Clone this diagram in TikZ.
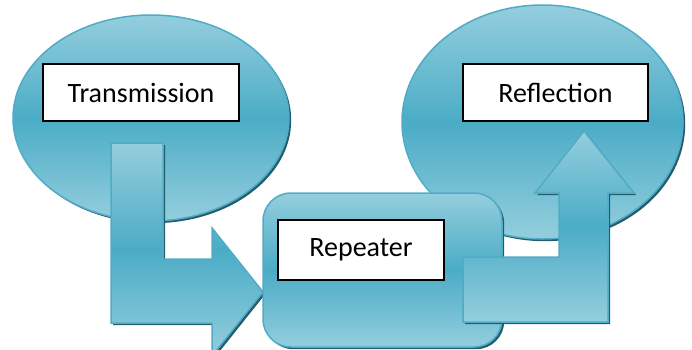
\documentclass[tikz,border=0pt]{standalone}
\usepackage{fontspec}
\setmainfont{Carlito}
\usetikzlibrary{shapes.geometric,shadows}
\definecolor{aqlight}{RGB}{148,206,221}
\definecolor{aqdark}{RGB}{75,172,198}
\definecolor{aqline}{RGB}{80,172,198}
\definecolor{shadowc}{RGB}{36,92,108}
\tikzset{
  aqua/.style={top color=aqlight, bottom color=aqlight, middle color=aqdark,
    draw=aqline, line width=1.5pt,
    drop shadow={shadow xshift=2.2pt, shadow yshift=-2.2pt, fill=shadowc, opacity=1}},
  labelbox/.style={draw=black, line width=1.3pt, fill=white, inner sep=0pt,
    font=\fontsize{28}{32}\selectfont},
}
\begin{document}
\begin{tikzpicture}[x=1pt,y=-1pt]
\useasboundingbox (0,0) rectangle (692,350);
\clip (0,0) rectangle (692,350);
% big shapes
\node[aqua, ellipse, minimum width=276pt, minimum height=206pt, inner sep=0pt] (leftell) at (151,118) {};
\node[aqua, ellipse, minimum width=281pt, minimum height=234pt, inner sep=0pt] (rightell) at (542.5,122) {};
% bent arrow 1 (down then right)
\path[aqua] (111,143) -- (163,143) -- (163,259) -- (212,259) -- (212,228) -- (263,292)
  -- (212,356) -- (212,323) -- (111,323) -- cycle;
% repeater block
\node[aqua, rectangle, rounded corners=28pt, minimum width=239pt, minimum height=154pt, inner sep=0pt] (repblock) at (382.5,270) {};
% bent arrow 2 (right then up)
\path[aqua] (463,257) -- (559,257) -- (559,193) -- (535,193) -- (584,131) -- (634,193)
  -- (608,193) -- (608,322) -- (463,322) -- cycle;
% labels
\node[labelbox, minimum width=196pt, minimum height=57pt] (trans) at (141,92.5) {Transmission};
\node[labelbox, minimum width=166pt, minimum height=60pt] (rep) at (361,250) {Repeater};
\node[labelbox, minimum width=185pt, minimum height=57pt] (refl) at (555.5,92.5) {Reflection};
\end{tikzpicture}
\end{document}
